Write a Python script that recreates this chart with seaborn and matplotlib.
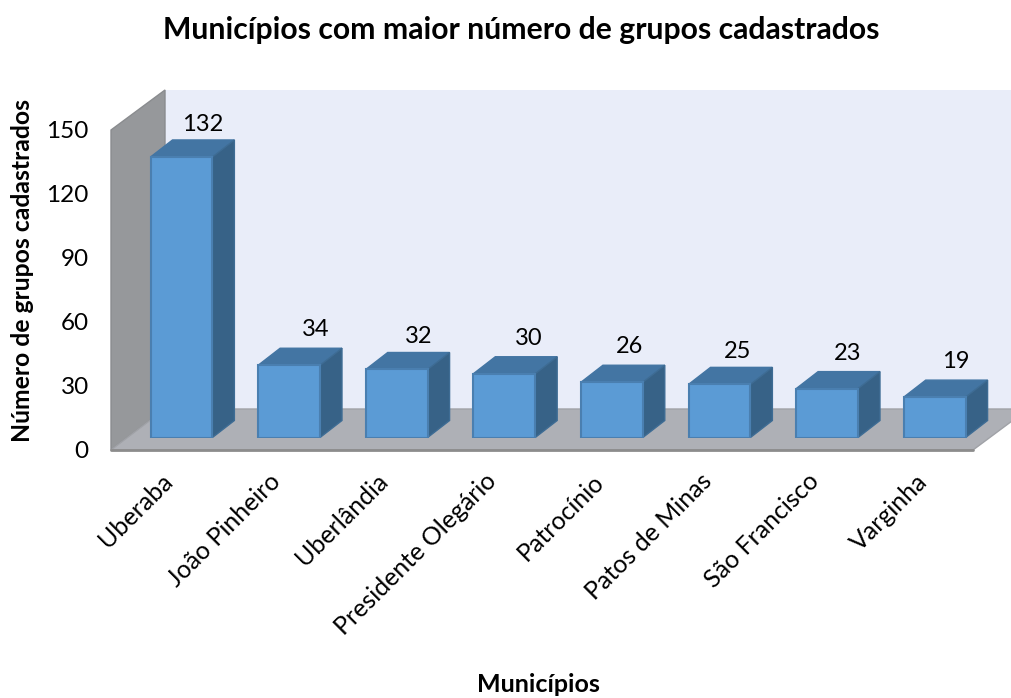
import matplotlib
matplotlib.use('Agg')  # Use a non-interactive backend
import matplotlib.pyplot as plt
from matplotlib.patches import Polygon
from matplotlib.transforms import Affine2D, ScaledTranslation
import pandas as pd
import seaborn as sns

municipios = ["Uberaba", "João Pinheiro", "Uberlândia", "Presidente Olegário",
              "Patrocínio", "Patos de Minas", "São Francisco", "Varginha"]
grupos = [132, 34, 32, 30, 26, 25, 23, 19]
y_ticks = [0, 30, 60, 90, 120, 150]
# the value labels were placed by hand in the original, nudges in pixels
label_nudge_x = [0, 6, 1, 4, -3, -3, 0, 0]
label_nudge_y = [-4, 0, -3, -1, 0, -3, -1, 0]

W, H = 1012, 698
# bar depth in data units (category widths, groups)
DEPTH_X = 0.204
DEPTH_Y = 8.0

sns.set_theme(style="white")
plt.rcParams['font.family'] = ['Lato', 'DejaVu Sans']

fig = plt.figure(figsize=(W / 100, H / 100), dpi=100)


def add_axes_px(left, top, right, bottom):
    """Add a transparent axes placed by pixel box."""
    ax = fig.add_axes([left / W, 1 - bottom / H, (right - left) / W, (bottom - top) / H])
    ax.patch.set_visible(False)
    sns.despine(ax=ax, left=True, bottom=True)
    return ax


# front plane: carries the tick labels and the walls
ax_front = add_axes_px(111, 130, 973, 450)
ax_front.set_xlim(-0.5, 7.5)
ax_front.set_ylim(0, 150)
ax_front.set_yticks(y_ticks)
ax_front.set_yticklabels([str(t) for t in y_ticks], fontsize=17.5, color="black")
ax_front.set_xticks(range(len(municipios)))
ax_front.set_xticklabels(municipios, rotation=45, ha="right", rotation_mode="anchor",
                         fontsize=18, color="black")
ax_front.tick_params(axis="y", length=0, pad=16)
ax_front.tick_params(axis="x", length=0, pad=14)
for label in ax_front.get_xticklabels():
    label.set_transform(label.get_transform() + ScaledTranslation(-4 / 100, 0, fig.dpi_scale_trans))

# walls and floor, in image pixels
px = Affine2D().scale(1 / W, -1 / H).translate(0, 1) + fig.transFigure
walls = [
    ([(165, 90), (1012, 90), (1012, 409), (165, 409)], "#E9EDF9", "none"),
    ([(111, 130), (165, 90), (165, 409), (111, 450)], "#96989B", "#8A8C8F"),
    ([(111, 450), (165, 409), (1012, 409), (1012, 421), (973, 450)], "#AEB0B6", "#A0A2A7"),
]
for pts, face, edge in walls:
    fig.add_artist(Polygon(pts, closed=True, facecolor=face, edgecolor=edge, lw=1,
                           transform=px, zorder=-1))
fig.add_artist(plt.Line2D([111, 973], [450, 450], color="#8C8C8C", lw=2, transform=px, zorder=-1))

# bars, one depth step behind the front plane
ax_bars = add_axes_px(127.7, 118.7, 988.5, 437.5)
df = pd.DataFrame({"municipio": municipios, "grupos": grupos})
sns.barplot(data=df, x="municipio", y="grupos", ax=ax_bars, color="#5B9BD5", saturation=1,
            width=0.575, edgecolor="#4A7FB0", linewidth=1.5, zorder=3)
ax_bars.set_xlim(-0.5, 7.5)
ax_bars.set_ylim(0, 150)
ax_bars.set_xticks([])
ax_bars.set_yticks([])
ax_bars.set_xlabel("")
ax_bars.set_ylabel("")

for bar, value, nx, ny in zip(ax_bars.patches, grupos, label_nudge_x, label_nudge_y):
    x0, x1 = bar.get_x(), bar.get_x() + bar.get_width()
    top = bar.get_height()
    ax_bars.add_patch(Polygon([(x0, top), (x1, top), (x1 + DEPTH_X, top + DEPTH_Y), (x0 + DEPTH_X, top + DEPTH_Y)],
                              closed=True, facecolor="#4375A3", edgecolor="#4375A3", lw=1,
                              clip_on=False, zorder=2))
    ax_bars.add_patch(Polygon([(x1, 0), (x1 + DEPTH_X, DEPTH_Y), (x1 + DEPTH_X, top + DEPTH_Y), (x1, top)],
                              closed=True, facecolor="#376287", edgecolor="#3E6C94", lw=1,
                              clip_on=False, zorder=2))
    ax_bars.annotate(str(value), (x0 + bar.get_width() / 2, top),
                     xytext=(15 + nx * 0.72, 26 + ny * 0.72),
                     textcoords="offset points", ha="center", va="center",
                     fontsize=17, color="black", annotation_clip=False)

fig.text(521 / W, 1 - 30 / H, "Municípios com maior número de grupos cadastrados",
         ha="center", va="center", fontsize=21.7, fontweight="bold", color="black")
fig.text(23 / W, 1 - 271 / H, "Número de grupos cadastrados", rotation=90,
         ha="center", va="center", fontsize=17.8, fontweight="bold", color="black")
fig.text(538 / W, 1 - 685 / H, "Municípios",
         ha="center", va="center", fontsize=18, fontweight="bold", color="black")

fig.savefig("out.png", dpi=100)
